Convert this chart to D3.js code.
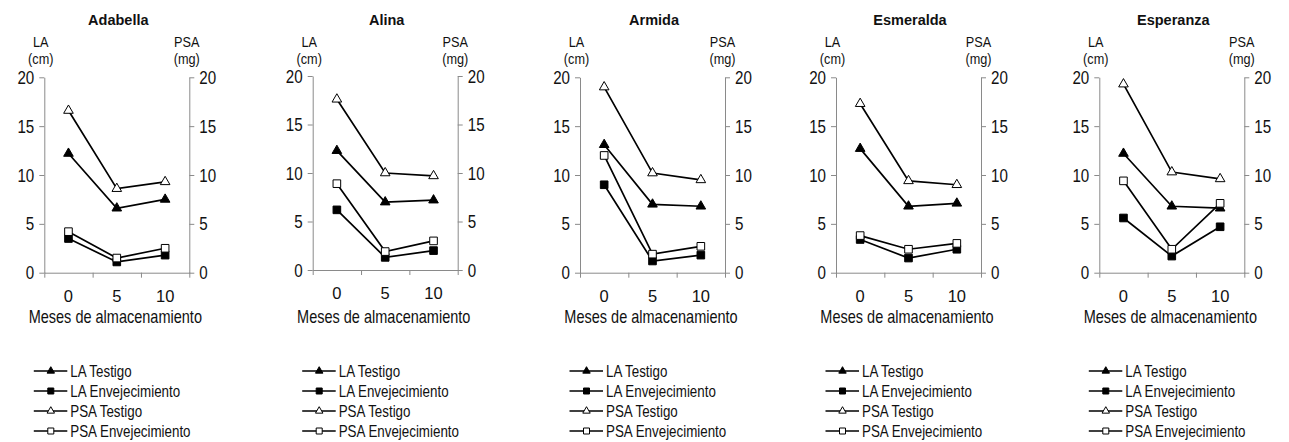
<!DOCTYPE html>
<html><head><meta charset="utf-8">
<script src="https://cdn.jsdelivr.net/npm/d3@7"></script>
<style>body{margin:0;background:#fff}svg{display:block}</style>
</head><body>
<svg id="chart" width="1289" height="442"></svg>
<script>
// ---- data ----
const cultivars = ["Adabella", "Alina", "Armida", "Esmeralda", "Esperanza"];
const months = ["0", "5", "10"];
const seriesNames = ["LA Testigo", "LA Envejecimiento", "PSA Testigo", "PSA Envejecimiento"];
const laTestigo        = [[12.2, 6.6, 7.5], [12.3, 7.0, 7.2], [13.1, 7.0, 6.8], [12.7, 6.8, 7.1], [12.2, 6.8, 6.6]];
const laEnvejecimiento = [[3.5, 1.1, 1.8], [6.2, 1.3, 2.0], [9.0, 1.2, 1.8], [3.4, 1.5, 2.4], [5.6, 1.7, 4.7]];
const psaTestigo       = [[16.6, 8.6, 9.3], [17.6, 10.0, 9.7], [19.0, 10.2, 9.5], [17.3, 9.4, 9.0], [19.3, 10.3, 9.6]];
const psaEnvejecimiento= [[4.2, 1.5, 2.5], [8.9, 1.9, 3.0], [12.0, 1.9, 2.7], [3.8, 2.4, 3.0], [9.4, 2.4, 7.1]];
const yTicks = [0, 5, 10, 15, 20];
const leftLabel = ["LA", "(cm)"];
const rightLabel = ["PSA", "(mg)"];
const xTitle = "Meses de almacenamiento";

// ---- layout ----
const plotLeft = [44.3, 312.7, 580, 836, 1099.3];
const plotTop = [77.3, 76, 77.3, 77.3, 77.3];
const plotBottom = [272.7, 270, 272.7, 272.7, 272.7];
const plotW = 145;
const axisColor = "#8a8a8a";
const textColor = "#111";
const NARROW = "'Liberation Sans Narrow','Arial Narrow'";
const REG = "'Liberation Sans',Arial,sans-serif";

const svg = d3.select("#chart");

let narrowOK = true;
(function () {
  const t1 = svg.append("text").attr("font-family", NARROW + ",'Liberation Sans'").attr("font-size", 20).text("Meses de almacenamiento");
  const t2 = svg.append("text").attr("font-family", REG).attr("font-size", 20).text("Meses de almacenamiento");
  const w1 = t1.node().getComputedTextLength(), w2 = t2.node().getComputedTextLength();
  if (w1 / w2 > 0.95) narrowOK = false;
  t1.remove(); t2.remove();
})();
function narrowText(g, x, y, str, size, anchor, weight) {
  const t = g.append("text")
    .attr("font-family", narrowOK ? NARROW : REG)
    .attr("font-size", size)
    .attr("fill", textColor)
    .attr("text-anchor", anchor || "start")
    .attr("font-weight", weight || "normal")
    .text(str);
  if (narrowOK) t.attr("x", x).attr("y", y);
  else t.attr("transform", `translate(${x},${y}) scale(0.82,1)`);
  return t;
}

const seriesData = [laTestigo, laEnvejecimiento, psaTestigo, psaEnvejecimiento];
const symType = [d3.symbolTriangle, d3.symbolSquare, d3.symbolTriangle, d3.symbolSquare];
const symFill = ["#000", "#000", "#fff", "#fff"];
const symSize = [40, 58, 40, 58];
const legSize = [24, 36, 24, 36];

cultivars.forEach((name, p) => {
  const L = plotLeft[p], R = L + plotW, T = plotTop[p], B = plotBottom[p];
  const g = svg.append("g");
  const y = d3.scaleLinear().domain([0, 20]).range([B, T]);
  const xb = d3.scaleBand().domain(months).range([L, R]);
  const xEdge = d3.scaleLinear().domain([0, 3]).range([L, R]);
  const cx = m => xb(m) + xb.bandwidth() / 2;

  const la = g.append("g").attr("transform", `translate(${L},0)`)
    .call(d3.axisLeft(y).tickValues(yTicks).tickSize(5).tickSizeOuter(0).tickFormat(""));
  const ra = g.append("g").attr("transform", `translate(${R},0)`)
    .call(d3.axisRight(y).tickValues(yTicks).tickSize(5).tickSizeOuter(0).tickFormat(""));
  const ba = g.append("g").attr("transform", `translate(0,${B})`)
    .call(d3.axisBottom(xEdge).tickValues([0, 1, 2, 3]).tickSize(5).tickSizeOuter(0).tickFormat(""));
  [la, ra, ba].forEach(a => { a.selectAll("path,line").attr("stroke", axisColor).attr("stroke-width", 1); });

  yTicks.forEach(v => {
    narrowText(g, L - 10, y(v) + 6.5, String(v), 18.5, "end");
    narrowText(g, R + 10, y(v) + 6.5, String(v), 18.5, "start");
  });
  months.forEach(m => {
    g.append("text").attr("x", cx(m)).attr("y", B + 29).attr("text-anchor", "middle")
      .attr("font-family", REG).attr("font-size", 16.5).attr("fill", textColor).text(m);
  });

  g.append("text").attr("x", (L + R) / 2 + 1.5).attr("y", 25).attr("text-anchor", "middle")
    .attr("font-family", REG).attr("font-weight", "bold").attr("font-size", 14.5).attr("fill", textColor).text(name);
  narrowText(g, L - 3.5, 47, leftLabel[0], 15.5, "middle");
  narrowText(g, L - 3.5, 63.5, leftLabel[1], 15.5, "middle");
  narrowText(g, R - 2.5, 47, rightLabel[0], 15.5, "middle");
  narrowText(g, R - 2.5, 63.5, rightLabel[1], 15.5, "middle");
  narrowText(g, (L + R) / 2 - 1.5, 322.5, xTitle, 17.7, "middle");

  const line = d3.line().x((d, i) => cx(months[i])).y(d => y(d));
  seriesData.forEach((sd, s) => {
    g.append("path").attr("d", line(sd[p])).attr("fill", "none").attr("stroke", "#000").attr("stroke-width", 1.7);
  });
  seriesData.forEach((sd, s) => {
    g.selectAll(null).data(sd[p]).enter().append("path")
      .attr("d", d3.symbol().type(symType[s]).size(symSize[s]))
      .attr("transform", (d, i) => `translate(${cx(months[i])},${y(d)})`)
      .attr("fill", symFill[s]).attr("stroke", "#000").attr("stroke-width", 1);
  });

  seriesNames.forEach((sn, s) => {
    const ry = 371 + s * 20;
    g.append("line").attr("x1", L - 10.5).attr("x2", L + 23).attr("y1", ry).attr("y2", ry)
      .attr("stroke", "#000").attr("stroke-width", 1.5);
    g.append("path").attr("d", d3.symbol().type(symType[s]).size(legSize[s])())
      .attr("transform", `translate(${L + 6.5},${ry})`)
      .attr("fill", symFill[s]).attr("stroke", "#000").attr("stroke-width", 1);
    narrowText(g, L + 26, ry + 6, sn, 16.3, "start");
  });
});
</script>
</body></html>
